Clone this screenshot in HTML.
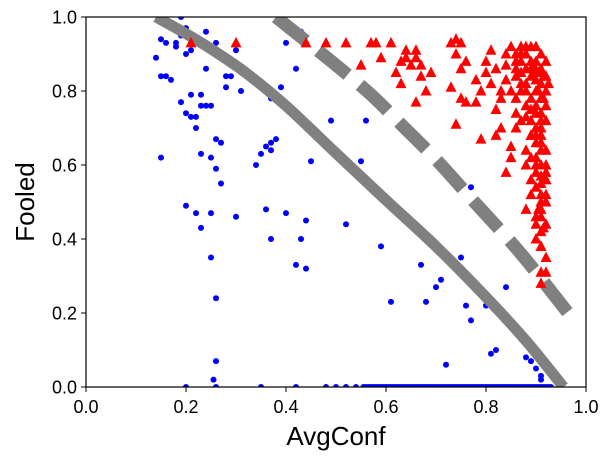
<!DOCTYPE html>
<html><head><meta charset="utf-8"><style>
body{margin:0;background:#fff;}
svg{display:block;font-family:"Liberation Sans","DejaVu Sans",sans-serif;}
</style></head><body>
<svg id="chart" width="609" height="460"></svg>
<script>
const blueX=[0.14,0.15,0.16,0.15,0.16,0.17,0.15,0.18,0.18,0.19,0.20,0.19,0.20,0.21,0.19,0.20,0.21,0.21,0.22,0.22,0.23,0.23,0.24,0.25,0.24,0.23,0.25,0.26,0.26,0.27,0.27,0.28,0.29,0.28,0.26,0.24,0.22,0.23,0.25,0.25,0.20,0.26,0.26,0.255,0.30,0.30,0.31,0.34,0.35,0.36,0.37,0.37,0.38,0.37,0.39,0.40,0.42,0.43,0.36,0.37,0.40,0.42,0.43,0.44,0.44,0.45,0.49,0.52,0.55,0.56,0.59,0.61,0.64,0.67,0.68,0.69,0.70,0.71,0.72,0.75,0.76,0.77,0.77,0.80,0.81,0.82,0.84,0.88,0.89,0.90,0.91,0.91];
const blueY=[0.89,0.94,0.93,0.84,0.84,0.83,0.62,0.92,0.93,0.95,0.97,1.0,0.90,0.91,0.77,0.74,0.73,0.79,0.73,0.70,0.79,0.76,0.76,0.76,0.86,0.63,0.62,0.67,0.59,0.66,0.55,0.84,0.84,0.81,0.93,0.96,0.47,0.43,0.47,0.35,0.49,0.24,0.07,0.02,0.46,0.91,0.80,0.60,0.63,0.65,0.64,0.66,0.67,0.78,0.81,0.93,0.86,0.96,0.48,0.40,0.47,0.33,0.40,0.32,0.45,0.61,0.72,0.44,0.61,0.72,0.38,0.23,0.46,0.33,0.23,0.39,0.27,0.29,0.06,0.35,0.22,0.18,0.54,0.22,0.09,0.10,0.27,0.08,0.07,0.05,0.03,0.02];
const zeroX=[0.20,0.26,0.35,0.42,0.48,0.50,0.52,0.54,0.555,0.56,0.565,0.57,0.575,0.58,0.585,0.59,0.595,0.60,0.605,0.61,0.615,0.62,0.625,0.63,0.635,0.64,0.645,0.65,0.655,0.66,0.665,0.67,0.675,0.68,0.685,0.69,0.695,0.70,0.705,0.71,0.715,0.72,0.725,0.73,0.735,0.74,0.745,0.75,0.755,0.76,0.765,0.77,0.775,0.78,0.785,0.79,0.795,0.80,0.805,0.81,0.815,0.82,0.825,0.83,0.835,0.84,0.845,0.85,0.855,0.86,0.865,0.87,0.875,0.88,0.885,0.89,0.895,0.90,0.905,0.91,0.915,0.92,0.925,0.93];
const redX=[0.21,0.30,0.44,0.48,0.52,0.55,0.57,0.58,0.59,0.61,0.63,0.63,0.64,0.64,0.65,0.66,0.67,0.66,0.69,0.62,0.66,0.68,0.67,0.73,0.74,0.75,0.74,0.75,0.73,0.75,0.76,0.78,0.79,0.76,0.78,0.74,0.79,0.81,0.80,0.80,0.81,0.82,0.83,0.82,0.83,0.84,0.84,0.85,0.85,0.86,0.86,0.86,0.87,0.87,0.87,0.88,0.88,0.88,0.88,0.89,0.89,0.89,0.89,0.89,0.90,0.90,0.90,0.90,0.90,0.90,0.90,0.90,0.91,0.91,0.91,0.91,0.91,0.91,0.91,0.91,0.91,0.91,0.91,0.91,0.91,0.91,0.92,0.92,0.92,0.92,0.92,0.92,0.92,0.92,0.92,0.92,0.85,0.84,0.86,0.87,0.89,0.88,0.90,0.89,0.88,0.87,0.86,0.84,0.82,0.83,0.85,0.86,0.88,0.89,0.90,0.91,0.92,0.90,0.91,0.92,0.88,0.89,0.90,0.87,0.88,0.89,0.90,0.91,0.86,0.87,0.88,0.89,0.90,0.91,0.92,0.89,0.90,0.91,0.90,0.91,0.92,0.905,0.915,0.895,0.905,0.915,0.925,0.905,0.915,0.91,0.90,0.92,0.91,0.90];
const redY=[0.93,0.93,0.93,0.93,0.93,0.87,0.93,0.93,0.89,0.93,0.82,0.88,0.89,0.91,0.87,0.91,0.84,0.89,0.85,0.85,0.77,0.80,0.87,0.93,0.94,0.93,0.90,0.86,0.81,0.78,0.88,0.83,0.80,0.77,0.77,0.71,0.67,0.91,0.88,0.85,0.82,0.75,0.70,0.68,0.78,0.58,0.87,0.92,0.65,0.90,0.84,0.74,0.92,0.88,0.80,0.92,0.86,0.82,0.76,0.92,0.88,0.84,0.78,0.72,0.92,0.88,0.85,0.80,0.76,0.70,0.66,0.62,0.90,0.86,0.82,0.78,0.74,0.70,0.66,0.60,0.55,0.50,0.46,0.42,0.38,0.31,0.88,0.84,0.80,0.72,0.64,0.56,0.50,0.44,0.35,0.31,0.80,0.83,0.78,0.72,0.68,0.60,0.58,0.52,0.48,0.90,0.86,0.90,0.86,0.80,0.62,0.70,0.64,0.56,0.40,0.48,0.60,0.44,0.28,0.52,0.90,0.86,0.83,0.85,0.80,0.75,0.74,0.72,0.88,0.82,0.73,0.68,0.68,0.64,0.76,0.62,0.60,0.57,0.54,0.52,0.56,0.80,0.84,0.87,0.85,0.78,0.82,0.48,0.43,0.68,0.70,0.58,0.38,0.46];
const solidX=[0.14,0.20,0.26,0.32,0.40,0.50,0.60,0.70,0.80,0.88,0.955];
const solidY=[1.0,0.955,0.905,0.849,0.76,0.632,0.505,0.38,0.243,0.125,0.0];
const dashX=[0.38,0.44,0.50,0.57,0.63,0.70,0.77,0.87,0.97];
const dashY=[1.0,0.935,0.87,0.79,0.71,0.615,0.51,0.36,0.19];
const xTicks=[0,0.2,0.4,0.6,0.8,1.0];
const yTicks=[0,0.2,0.4,0.6,0.8,1.0];

const L=86,R=586,T=17,B=387;
const sx=v=>L+v*(R-L), sy=v=>B-v*(B-T);
const NS="http://www.w3.org/2000/svg";
const svg=document.getElementById('chart');
function mk(tag,attrs,parent){const e=document.createElementNS(NS,tag);for(const k in attrs)e.setAttribute(k,attrs[k]);(parent||svg).appendChild(e);return e;}

const defs=mk('defs',{});
const cp=mk('clipPath',{id:'clip'},defs);
mk('rect',{x:L,y:T,width:R-L,height:B-T},cp);
const plot=mk('g',{'clip-path':'url(#clip)'});



for(let i=0;i<blueX.length;i++){
  const c=mk('circle',{cx:sx(blueX[i]),cy:sy(blueY[i]),r:3,fill:'#0000ff'},plot);
  
  
}
for(let i=0;i<zeroX.length;i++){
  const c=mk('circle',{cx:sx(zeroX[i]),cy:sy(0),r:3,fill:'#0000ff'},plot);
  
  
}
function line(xs,ys,extra,name){
  let d='M'+sx(xs[0])+','+sy(ys[0]);
  for(let i=0;i<xs.length-1;i++){
    const p0=i>0?i-1:i,p3=i+2<xs.length?i+2:i+1;
    const x0=sx(xs[p0]),y0=sy(ys[p0]),x1=sx(xs[i]),y1=sy(ys[i]),x2=sx(xs[i+1]),y2=sy(ys[i+1]),x3=sx(xs[p3]),y3=sy(ys[p3]);
    d+=`C${x1+(x2-x0)/6},${y1+(y2-y0)/6} ${x2-(x3-x1)/6},${y2-(y3-y1)/6} ${x2},${y2}`;
  }
  const p=mk('path',Object.assign({d:d,fill:'none',stroke:'#808080'},extra),plot);
  
  
}
line(solidX,solidY,{'stroke-width':11},'solid-boundary-curve');
line(dashX,dashY,{'stroke-width':13,'stroke-dasharray':'38,16'},'dashed-boundary-curve');
for(let i=0;i<redX.length;i++){
  const x=sx(redX[i]),y=sy(redY[i]);
  const t=mk('polygon',{points:`${x},${y-6} ${x-5.5},${y+4.5} ${x+5.5},${y+4.5}`,fill:'#ff0000'},plot);
  
  
}
const frame=mk('rect',{x:L,y:T,width:R-L,height:B-T,fill:'none',stroke:'#000','stroke-width':1.2});


xTicks.forEach(v=>{
  mk('line',{x1:sx(v),x2:sx(v),y1:B,y2:B+5,stroke:'#000'});
  const t=mk('text',{x:sx(v),y:B+26,'text-anchor':'middle','font-size':18});
  t.textContent=v.toFixed(1);
  
  
});
yTicks.forEach(v=>{
  mk('line',{x1:L-5,x2:L,y1:sy(v),y2:sy(v),stroke:'#000'});
  const t=mk('text',{x:L-9,y:sy(v)+6.5,'text-anchor':'end','font-size':18});
  t.textContent=v.toFixed(1);
  
  
});
const xt=mk('text',{x:(L+R)/2,y:445,'text-anchor':'middle','font-size':26});
xt.textContent='AvgConf';


const yt=mk('text',{x:0,y:0,'text-anchor':'middle','font-size':26,transform:`translate(34,${(T+B)/2}) rotate(-90)`});
yt.textContent='Fooled';


</script>
</body></html>
